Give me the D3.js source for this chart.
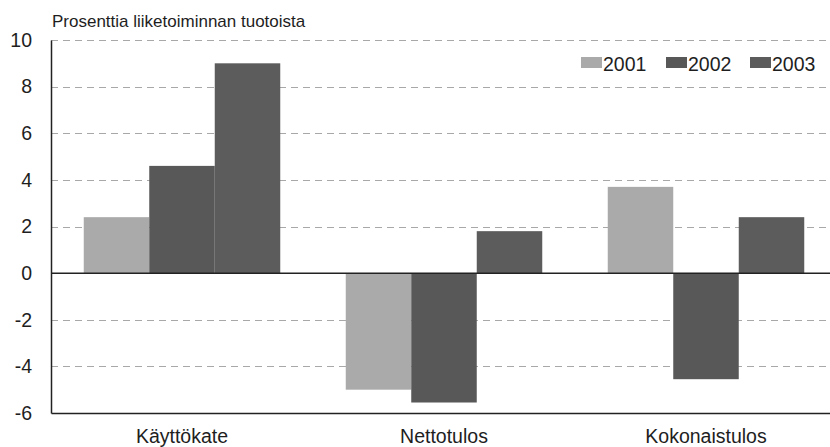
<!DOCTYPE html>
<html>
<head>
<meta charset="utf-8">
<script src="https://cdn.jsdelivr.net/npm/d3@7"></script>
<style>
html,body{margin:0;padding:0;background:#fff;}
svg{display:block;}
text{font-family:"Liberation Sans",Arial,sans-serif;fill:#1e1e1e;}
</style>
</head>
<body>
<svg id="chart" width="830" height="447"></svg>
<script>
const categories = ["Käyttökate", "Nettotulos", "Kokonaistulos"];
const seriesNames = ["2001", "2002", "2003"];
const values2001 = [2.4, -5.0, 3.7];
const values2002 = [4.6, -5.55, -4.55];
const values2003 = [9.0, 1.8, 2.4];
const yTicks = [-6, -4, -2, 0, 2, 4, 6, 8, 10];
const yTickLabels = ["-6", "-4", "-2", "0", "2", "4", "6", "8", "10"];
const titleText = "Prosenttia liiketoiminnan tuotoista";

const seriesValues = [values2001, values2002, values2003];
const colors = ["#aaaaaa", "#585858", "#5c5c5c"];

const svg = d3.select("#chart");
const mLeft = 51, mTop = 40, mBottom = 413, mRight = 837;

const y = d3.scaleLinear().domain([-6, 10]).range([mBottom, mTop]);
const x0 = d3.scaleBand().domain(categories).range([mLeft, mRight])
  .paddingInner(0.25).paddingOuter(0.125);
const x1 = d3.scaleBand().domain(seriesNames).range([0, x0.bandwidth()]).padding(0);
const color = d3.scaleOrdinal().domain(seriesNames).range(colors);

// gridlines
svg.append("g").selectAll("line")
  .data(yTicks.filter(t => t !== 0 && t !== -6))
  .join("line")
  .attr("x1", mLeft).attr("x2", 830)
  .attr("y1", d => Math.round(y(d)) + 0.5).attr("y2", d => Math.round(y(d)) + 0.5)
  .attr("stroke", "#a8a8a8").attr("stroke-width", 1)
  .attr("stroke-dasharray", "7,5");

// bars
const rows = categories.map((c, i) => ({cat: c, vals: seriesNames.map((s, j) => ({s, v: seriesValues[j][i]}))}));
svg.append("g").selectAll("g").data(rows).join("g")
  .attr("transform", d => `translate(${x0(d.cat)},0)`)
  .selectAll("rect").data(d => d.vals).join("rect")
  .attr("x", d => x1(d.s))
  .attr("width", x1.bandwidth())
  .attr("y", d => y(Math.max(0, d.v)))
  .attr("height", d => Math.abs(y(d.v) - y(0)))
  .attr("fill", d => color(d.s));

// zero line
svg.append("line")
  .attr("x1", mLeft).attr("x2", 830)
  .attr("y1", y(0)).attr("y2", y(0))
  .attr("stroke", "#222").attr("stroke-width", 1.5);

// y axis
const yAxis = d3.axisLeft(y).tickValues(yTicks).tickSize(0).tickPadding(19)
  .tickFormat((d, i) => yTickLabels[i]);
const gy = svg.append("g").attr("transform", `translate(${mLeft},0)`).call(yAxis);
gy.select(".domain").attr("stroke", "#222").attr("stroke-width", 1.5);
gy.selectAll("text").attr("font-size", 19.5).attr("font-family", '"Liberation Sans",Arial,sans-serif').attr("fill", "#1e1e1e");

// x axis at bottom
const xAxis = d3.axisBottom(x0).tickSize(0).tickPadding(16);
const gx = svg.append("g").attr("transform", `translate(0,${mBottom})`).call(xAxis);
gx.select(".domain").attr("stroke", "#222").attr("stroke-width", 1.5);
gx.selectAll("text").attr("font-size", 19.5).attr("font-family", '"Liberation Sans",Arial,sans-serif').attr("fill", "#1e1e1e");

// title
svg.append("text").attr("x", 52).attr("y", 27).attr("font-size", 17).text(titleText);

// legend
const legendX = d3.scaleOrdinal().domain(seriesNames).range([581, 666, 750]);
const lg = svg.append("g").selectAll("g").data(seriesNames).join("g")
  .attr("transform", d => `translate(${legendX(d)},57)`);
lg.append("rect").attr("width", 21).attr("height", 11).attr("fill", d => color(d));
lg.append("text").attr("x", 22).attr("y", 13.5).attr("font-size", 19.5).text(d => d);
</script>
</body>
</html>
